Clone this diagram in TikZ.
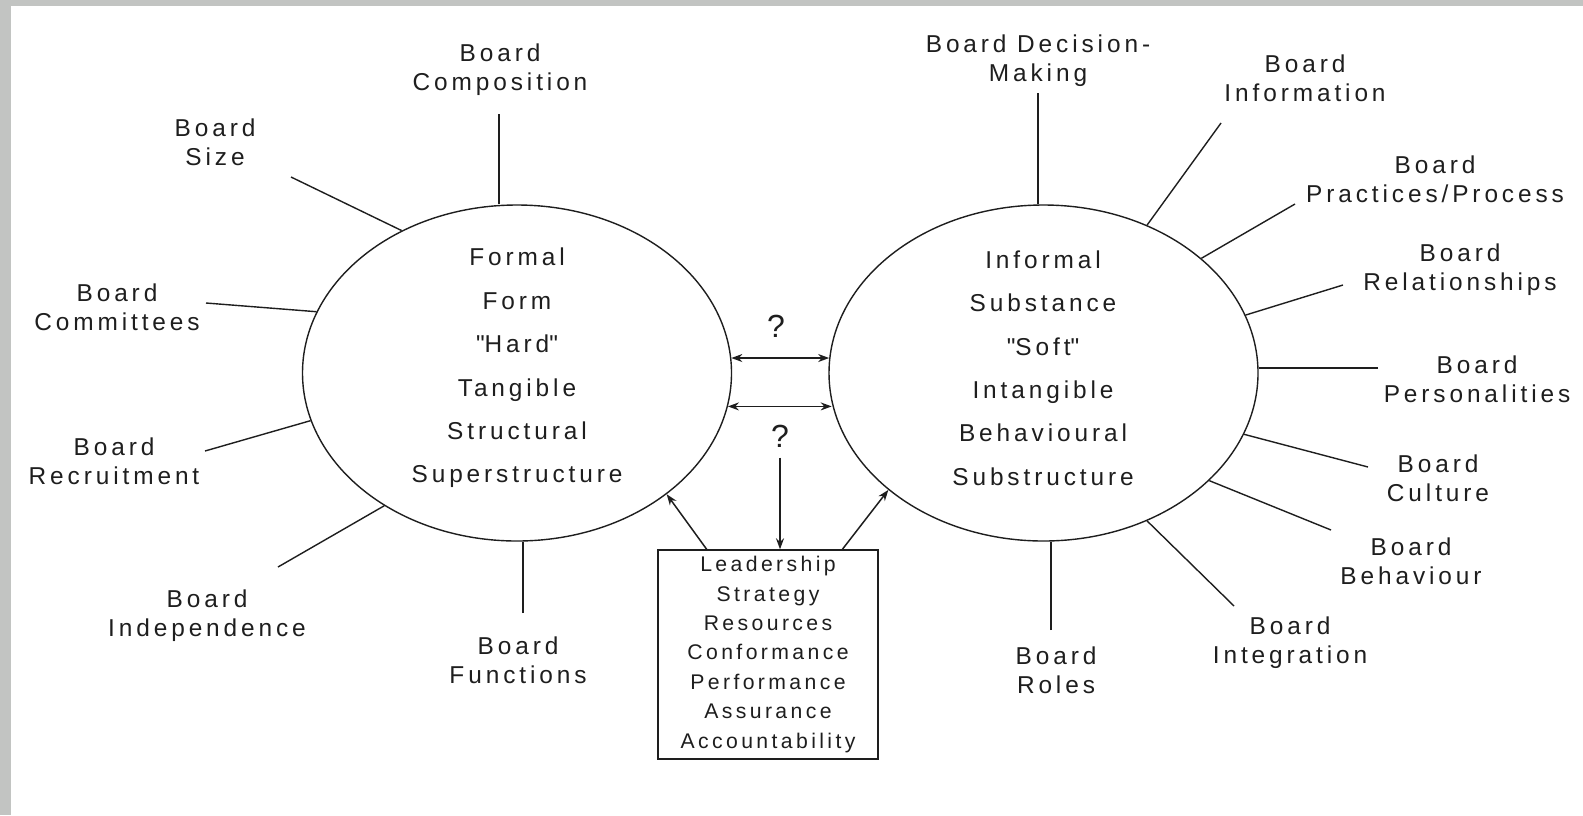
\documentclass[tikz,border=0pt]{standalone}
\usepackage{fontspec}
\setmainfont{Liberation Sans}[LetterSpace=16]
\usetikzlibrary{arrows,arrows.meta,shapes.geometric,calc}
\definecolor{framegray}{RGB}{194,196,194}
\definecolor{ink}{RGB}{30,30,30}

\begin{document}
\begin{tikzpicture}[>={Stealth[length=5.5pt,width=4pt]}, x=0.5pt, y=-0.5pt, line width=0.7pt, draw=ink, text=ink]
			\tikzstyle{oval} = [draw, ellipse, minimum width=214.5pt, minimum height=168pt, inner sep=0pt]
			\tikzstyle{tag} = [align=center, font=\fontsize{12.2}{14.5}\selectfont, inner sep=1pt]
			\tikzstyle{core} = [align=center, font=\fontsize{12.2}{21.7}\selectfont]
			\tikzstyle{square} = [draw, align=center, inner sep=1pt, minimum width=110pt, minimum height=104.5pt, font=\fontsize{10.6}{14.7}\selectfont]
			\tikzstyle{quest} = [font=\fontsize{16}{18}\selectfont]

			\useasboundingbox (0,0) rectangle (1583,815);
			\fill[framegray] (0,0) rectangle (1583,815);
			\fill[white] (11,6) rectangle (1583,815);

			% the two sides
			\node[oval] (lc) at (517,373) {};
			\node[oval] (rc) at (1043.5,373) {};
			\node[core] (ltext) at (517,368) {Formal\\Form\\\textquotedbl Hard\textquotedbl\\Tangible\\Structural\\Superstructure};
			\node[core] (rtext) at (1043,368) {Informal\\Substance\\\textquotedbl Soft\textquotedbl\\Intangible\\Behavioural\\Substructure};

			\node[tag] (comp) at (500,70) {Board\\Composition};
			\node[tag] (size) at (215,142) {Board\\Size};
			\node[tag] (cmte) at (117,307) {Board\\Committees};
			\node[tag] (recr) at (114,461) {Board\\Recruitment};
			\node[tag] (indep) at (207,616) {Board\\Independence};
			\node[tag] (func) at (518,660) {Board\\Functions};
			\node[tag] (deci) at (1038,61) {Board Decision-\\Making};
			\node[tag] (info) at (1305,78) {Board\\Information};
			\node[tag] (prac) at (1435,179) {Board\\Practices/Process};
			\node[tag] (rela) at (1460,270) {Board\\Relationships};
			\node[tag] (pers) at (1477,379) {Board\\Personalities};
			\node[tag] (cult) at (1438,478) {Board\\Culture};
			\node[tag] (behv) at (1411,561) {Board\\Behaviour};
			\node[tag] (integ) at (1290,643) {Board\\Integration};
			\node[tag] (roles) at (1056,670) {Board\\Roles};

			\coordinate (compEnd) at (499,114);
			\coordinate (sizeEnd) at (291,177);
			\coordinate (cmteEnd) at (206,303);
			\coordinate (recrEnd) at (205,451);
			\coordinate (indepEnd) at (278,567);
			\coordinate (funcEnd) at (523,613);
			\coordinate (deciEnd) at (1038,93);
			\coordinate (infoEnd) at (1221,123);
			\coordinate (pracEnd) at (1295,204);
			\coordinate (relaEnd) at (1343,285);
			\coordinate (persEnd) at (1378,368);
			\coordinate (cultEnd) at (1368,467);
			\coordinate (behvEnd) at (1331,530);
			\coordinate (integEnd) at (1234,606);
			\coordinate (rolesEnd) at (1051,630);

			\path
			(compEnd) edge (compEnd |- lc.north)
			(lc.129.5) edge (sizeEnd)
			(lc.163.6) edge (cmteEnd)
			(lc.193.7) edge (recrEnd)
			(lc.225.6) edge (indepEnd)
			(funcEnd) edge (funcEnd |- lc.south)
			(deciEnd) edge (deciEnd |- rc.north)
			(rc.55.2) edge (infoEnd)
			(rc.36.6) edge (pracEnd)
			(rc.16.3) edge (relaEnd)
			(persEnd) edge (persEnd -| rc.east)
			(rc.343.9) edge (cultEnd)
			(rc.327.7) edge (behvEnd)
			(rc.305.2) edge (integEnd)
			(rolesEnd) edge (rolesEnd |- rc.south)
			;

			% links between the sides
			\node[quest] (qup) at (776,326) {?};
			\node[quest] (qdown) at (780,436) {?};
			\node[square] (box) at (768,654.5) {Leadership\\Strategy\\Resources\\Conformance\\Performance\\Assurance\\Accountability};

			\path[->, line width=0.75pt]
			(lc.4) edge[<->] (lc.4 -| rc.176)
			(lc.351.3) edge[<->] (lc.351.3 -| rc.188.7)
			([yshift=-1.5pt]qdown.south) edge (qdown.south |- box.north)
			($(box.north west)!0.223!(box.north east)$) edge (lc.321.7)
			($(box.north west)!0.836!(box.north east)$) edge (rc.217)
			;
\end{tikzpicture}
\end{document}
